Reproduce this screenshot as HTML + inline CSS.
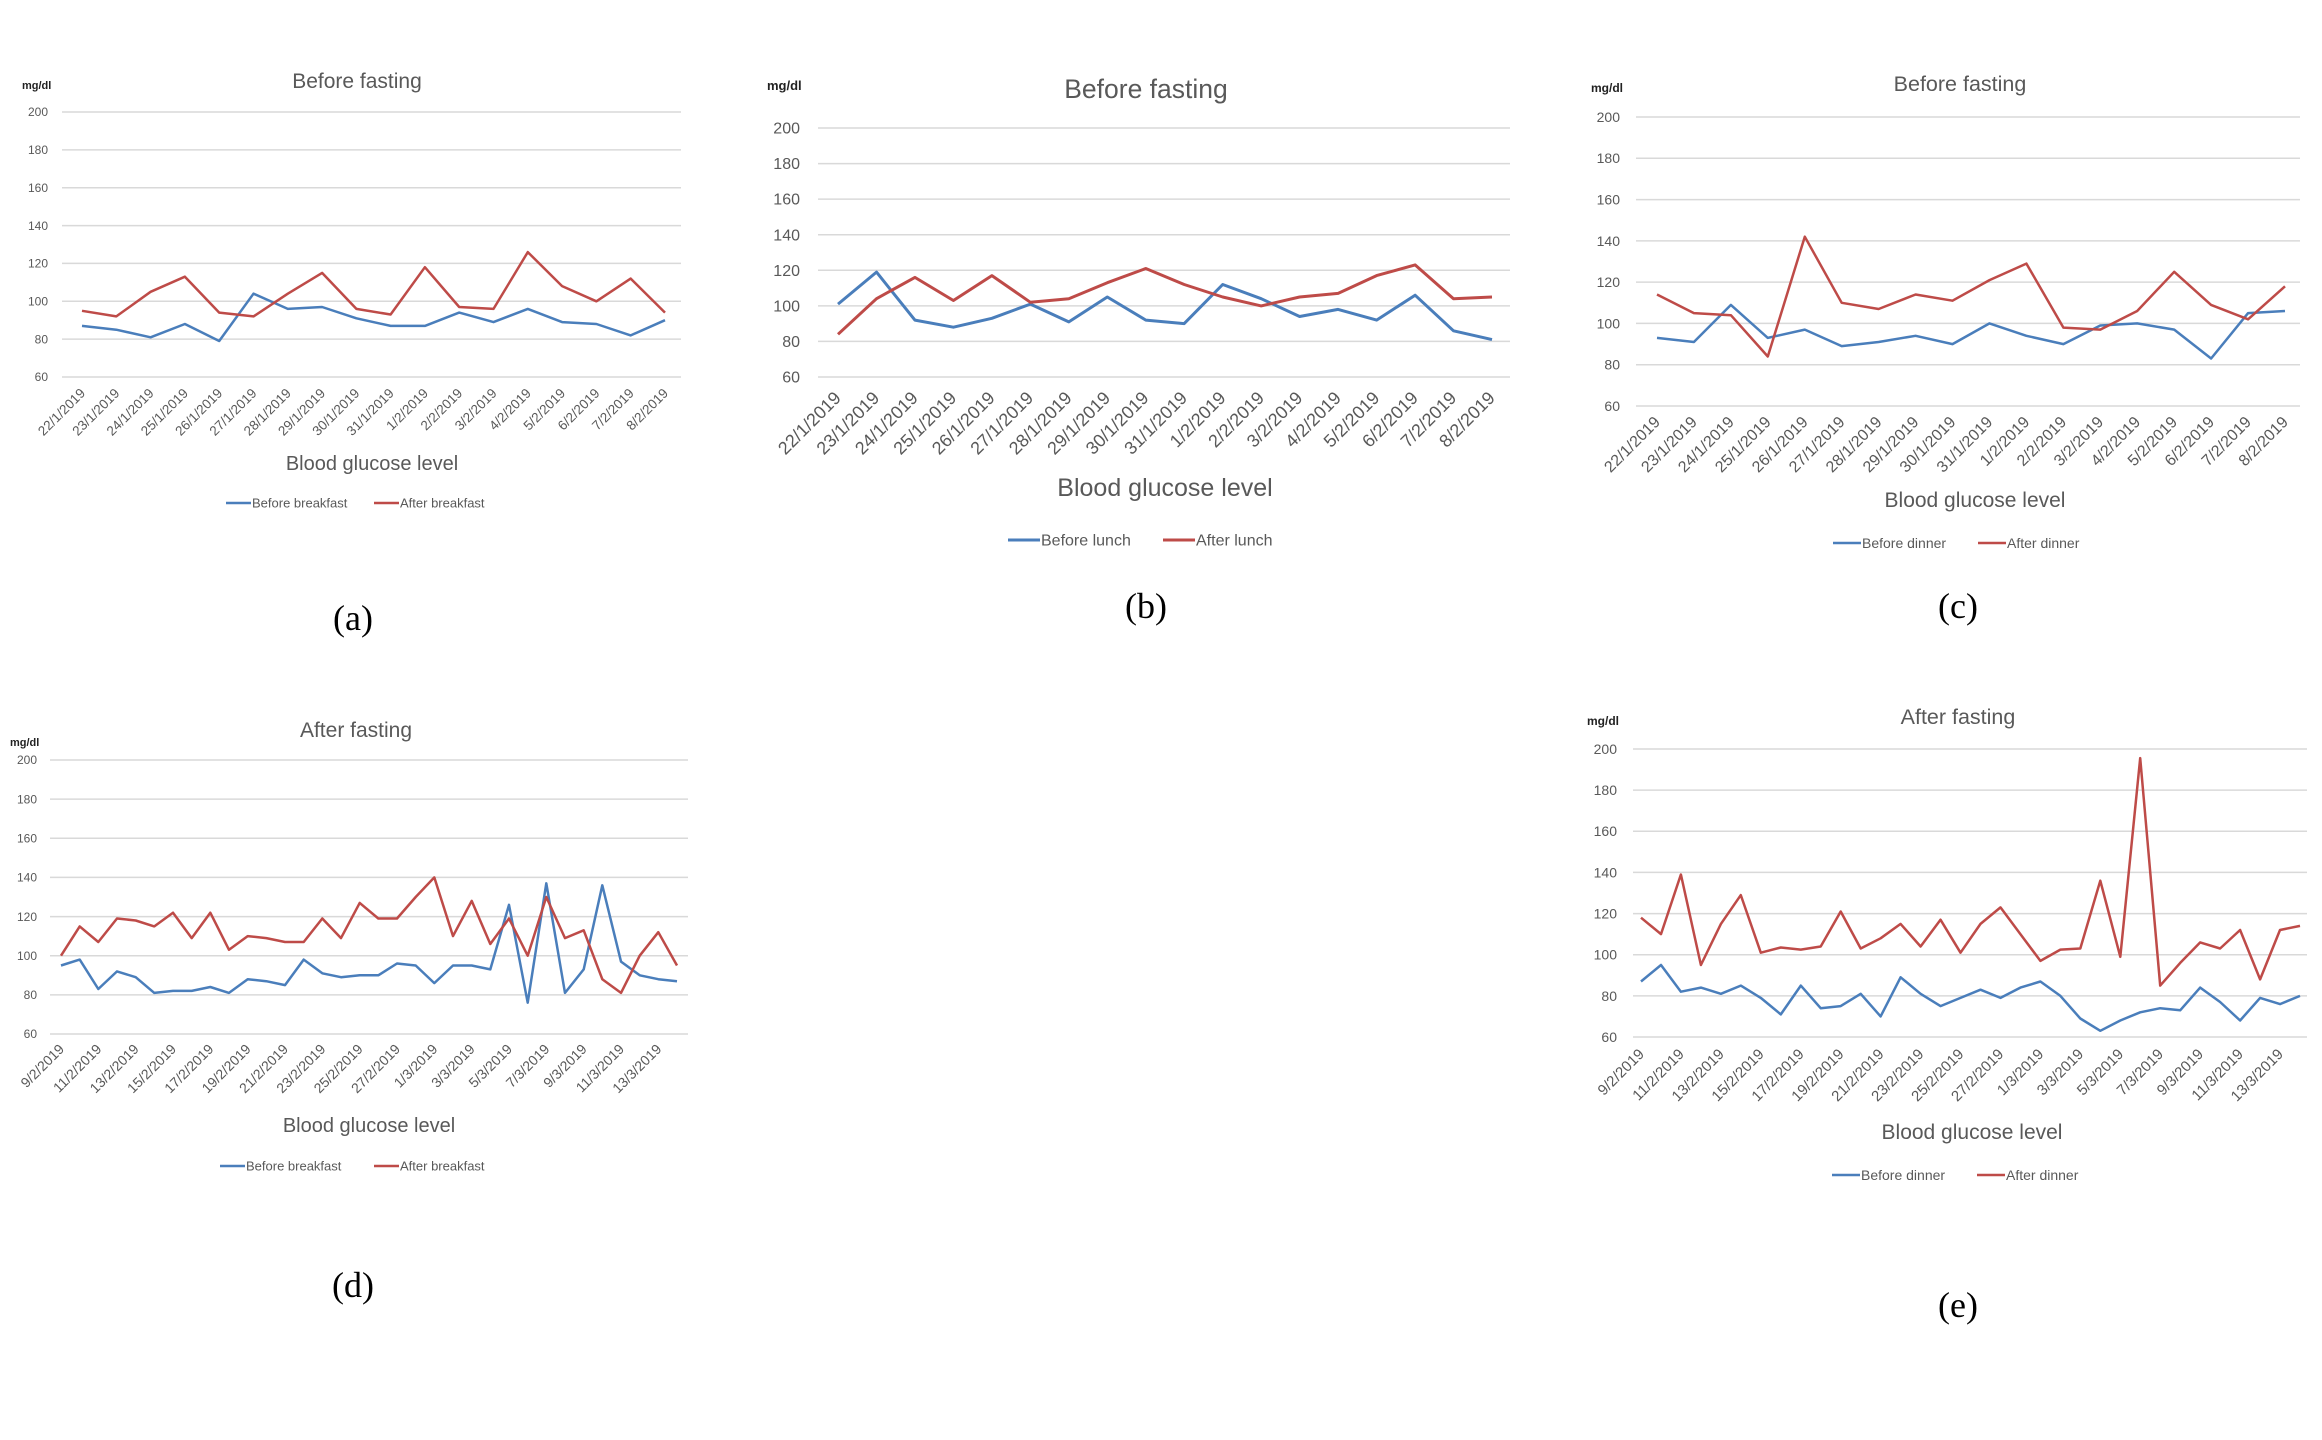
<!DOCTYPE html>
<html><head><meta charset="utf-8"><style>
html,body{margin:0;padding:0;background:#fff;}
svg{display:block;font-family:"Liberation Sans",sans-serif;}
</style></head><body>
<svg id="fig" width="2322" height="1440" viewBox="0 0 2322 1440" xmlns="http://www.w3.org/2000/svg">
<rect width="2322" height="1440" fill="#fff"/>
</svg>
<script>
// Categories
const datesA = ["22/1/2019","23/1/2019","24/1/2019","25/1/2019","26/1/2019","27/1/2019","28/1/2019","29/1/2019","30/1/2019","31/1/2019","1/2/2019","2/2/2019","3/2/2019","4/2/2019","5/2/2019","6/2/2019","7/2/2019","8/2/2019"];
const datesB = ["9/2/2019","10/2/2019","11/2/2019","12/2/2019","13/2/2019","14/2/2019","15/2/2019","16/2/2019","17/2/2019","18/2/2019","19/2/2019","20/2/2019","21/2/2019","22/2/2019","23/2/2019","24/2/2019","25/2/2019","26/2/2019","27/2/2019","28/2/2019","1/3/2019","2/3/2019","3/3/2019","4/3/2019","5/3/2019","6/3/2019","7/3/2019","8/3/2019","9/3/2019","10/3/2019","11/3/2019","12/3/2019","13/3/2019","14/3/2019"];
const yTicks = [60,80,100,120,140,160,180,200];
// Series values
const beforeBreakfastA = [87,85,81,88,79,104,96,97,91,87,87,94,89,96,89,88,82,90];
const afterBreakfastA  = [95,92,105,113,94,92,104,115,96,93,118,97,96,126,108,100,112,94];
const beforeLunchB = [101,119,92,88,93,101,91,105,92,90,112,104,94,98,92,106,86,81];
const afterLunchB  = [84,104,116,103,117,102,104,113,121,112,105,100,105,107,117,123,104,105];
const beforeDinnerC = [93,91,109,93,97,89,91,94,90,100,94,90,99,100,97,83,105,106];
const afterDinnerC  = [114,105,104,84,142,110,107,114,111,121,129,98,97,106,125,109,102,118];
const beforeBreakfastD = [95,98,83,92,89,81,82,82,84,81,88,87,85,98,91,89,90,90,96,95,86,95,95,93,126,76,137,81,93,136,97,90,88,87];
const afterBreakfastD  = [100,115,107,119,118,115,122,109,122,103,110,109,107,107,119,109,127,119,119,130,140,110,128,106,119,100,130,109,113,88,81,100,112,95];
const beforeDinnerE = [87,95,82,84,81,85,79,71,85,74,75,81,70,89,81,75,79,83,79,84,87,80,69,63,68,72,74,73,84,77,68,79,76,80];
const afterDinnerE  = [118,110,139,95,115,129,101,103.5,102.5,104,121,103,108,115,104,117,101,115,123,110,97,102.5,103,136,99,195.6,85,96,106,103,112,88,112,114];

const NS = "http://www.w3.org/2000/svg";
const svg = document.getElementById("fig");
const BLUE = "#4a7ebb", RED = "#be4b48", GRID = "#d9d9d9", TXT = "#595959";

function mk(tag, attrs, parent, text) {
  const e = document.createElementNS(NS, tag);
  for (const k in attrs) e.setAttribute(k, attrs[k]);
  if (text !== undefined) e.textContent = text;
  parent.appendChild(e);
  return e;
}

function chart(c) {
  const g = mk("g", {}, svg);
  
  
  const n = c.cats.length;
  const xs = i => c.x0 + (c.x1 - c.x0) * i / (n - 1);
  const ys = v => c.yB + (c.yT - c.yB) * (v - 60) / 140;
  yTicks.forEach(t => {
    const l = mk("line", {x1: c.gx0, x2: c.gx1, y1: ys(t), y2: ys(t), stroke: GRID, "stroke-width": 1.5}, g);
    
    
    const tl = mk("text", {x: c.tickX, y: ys(t) + c.tf * 0.35, "text-anchor": "end", "font-size": c.tf, fill: TXT}, g, String(t));
    
    
  });
  c.cats.forEach((d, i) => {
    if (i % c.step !== 0) return;
    const x = xs(i) + 4, y = c.catY;
    const t = mk("text", {x: x, y: y, "text-anchor": "end", "font-size": c.cf, fill: TXT, transform: `rotate(-45 ${x} ${y})`}, g, d);
    
    
  });
  [[c.s1, BLUE, 'series-' + c.l1.toLowerCase().replace(/ /g, '-')], [c.s2, RED, 'series-' + c.l2.toLowerCase().replace(/ /g, '-')]].forEach(([arr, col, nm]) => {
    const pts = arr.map((v, i) => xs(i).toFixed(1) + "," + ys(v).toFixed(1)).join(" ");
    const p = mk("polyline", {points: pts, fill: "none", stroke: col, "stroke-width": c.lw, "stroke-linejoin": "round"}, g);
    
    
  });
  const ti = mk("text", {x: c.titleX, y: c.titleY, "text-anchor": "middle", "font-size": c.titf, fill: TXT}, g, c.title);
  
  
  const un = mk("text", {x: c.unitX, y: c.unitY, "font-size": c.uf, fill: "#222", "font-weight": "bold"}, g, "mg/dl");
  
  
  const ax = mk("text", {x: c.axX, y: c.axY, "text-anchor": "middle", "font-size": c.axf, fill: TXT}, g, "Blood glucose level");
  
  
  const lg = mk("g", {}, g);
  
  
  [[c.lx1, BLUE, c.l1], [c.lx2, RED, c.l2]].forEach(([lx, col, lab]) => {
    const ln = mk("line", {x1: lx, x2: lx + c.sw, y1: c.legY, y2: c.legY, stroke: col, "stroke-width": c.lw}, lg);
    
    
    const lt = mk("text", {x: lx + c.sw + 1, y: c.legY + c.lf * 0.35, "font-size": c.lf, fill: TXT}, lg, lab);
    
    
  });
  const pl = mk("text", {x: c.pX, y: c.pY, "text-anchor": "middle", "font-size": 36, fill: "#000", "font-family": "Liberation Serif, serif"}, g, c.panel);
  
  
}

chart({name:"chart-a", cats:datesA, step:1, s1:beforeBreakfastA, s2:afterBreakfastA, l1:"Before breakfast", l2:"After breakfast",
  x0:82, x1:665, gx0:62, gx1:681, yT:112, yB:377, tickX:48, tf:12, cf:13.5, catY:394, lw:2.5,
  title:"Before fasting", titleX:357, titleY:88, titf:21, unitX:22, unitY:89, uf:11, axX:372, axY:470, axf:20,
  legY:503, lf:13, sw:25, lx1:226, lx2:374, panel:"(a)", pX:353, pY:630});
chart({name:"chart-b", cats:datesA, step:1, s1:beforeLunchB, s2:afterLunchB, l1:"Before lunch", l2:"After lunch",
  x0:838, x1:1492, gx0:818, gx1:1510, yT:128, yB:377, tickX:800, tf:16, cf:18, catY:399, lw:3,
  title:"Before fasting", titleX:1146, titleY:98, titf:26.5, unitX:767, unitY:90, uf:13, axX:1165, axY:496, axf:25,
  legY:540, lf:16, sw:32, lx1:1008, lx2:1163, panel:"(b)", pX:1146, pY:618});
chart({name:"chart-c", cats:datesA, step:1, s1:beforeDinnerC, s2:afterDinnerC, l1:"Before dinner", l2:"After dinner",
  x0:1657, x1:2285, gx0:1636, gx1:2300, yT:117, yB:406, tickX:1620, tf:14, cf:16, catY:423, lw:2.5,
  title:"Before fasting", titleX:1960, titleY:91, titf:21.5, unitX:1591, unitY:92, uf:12, axX:1975, axY:507, axf:21,
  legY:543, lf:14, sw:28, lx1:1833, lx2:1978, panel:"(c)", pX:1958, pY:618});
chart({name:"chart-d", cats:datesB, step:2, s1:beforeBreakfastD, s2:afterBreakfastD, l1:"Before breakfast", l2:"After breakfast",
  x0:61, x1:677, gx0:50, gx1:688, yT:760, yB:1034, tickX:37, tf:12, cf:14, catY:1050, lw:2.5,
  title:"After fasting", titleX:356, titleY:737, titf:21, unitX:10, unitY:746, uf:11, axX:369, axY:1132, axf:20,
  legY:1166, lf:13, sw:25, lx1:220, lx2:374, panel:"(d)", pX:353, pY:1297});
chart({name:"chart-e", cats:datesB, step:2, s1:beforeDinnerE, s2:afterDinnerE, l1:"Before dinner", l2:"After dinner",
  x0:1641, x1:2300, gx0:1633, gx1:2307, yT:749, yB:1037, tickX:1617, tf:14, cf:15, catY:1055, lw:2.5,
  title:"After fasting", titleX:1958, titleY:724, titf:21.5, unitX:1587, unitY:725, uf:12, axX:1972, axY:1139, axf:21,
  legY:1175, lf:14, sw:28, lx1:1832, lx2:1977, panel:"(e)", pX:1958, pY:1317});
</script>
</body></html>
